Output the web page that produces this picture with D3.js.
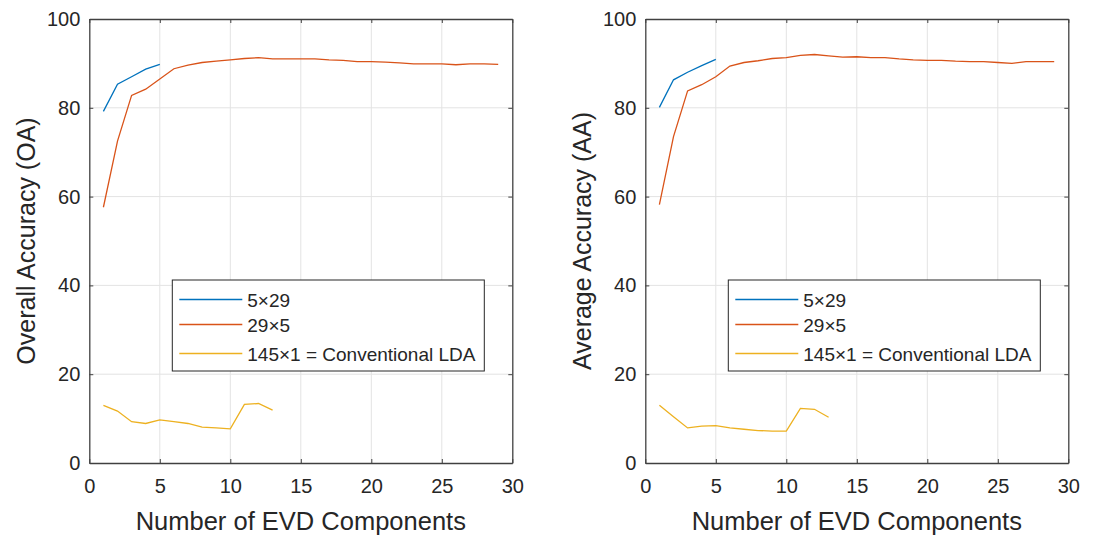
<!DOCTYPE html>
<html>
<head>
<meta charset="utf-8">
<script src="https://cdn.jsdelivr.net/npm/d3@7"></script>
<style>
  body { margin: 0; background: #fff; }
  svg { font-family: "Liberation Sans", Arial, sans-serif; }
</style>
</head>
<body>
<div id="chart"></div>
<script>
// EVD bileşen sayısı
const xTicks = [0, 5, 10, 15, 20, 25, 30];
const yTicks = [0, 20, 40, 60, 80, 100];
const seriesNames = ["5\u00d729", "29\u00d75", "145\u00d71 = Conventional LDA"];
const seriesColors = ["#0072BD", "#D95319", "#EDB120"];

// Overall Accuracy (OA)
const oa5x29 = [79.2, 85.3, 87.0, 88.7, 89.8];
const oa29x5 = [57.6, 72.5, 82.8, 84.2, 86.5, 88.8, 89.6, 90.2, 90.5, 90.8, 91.1, 91.3, 91.0, 91.0, 91.0,
                91.0, 90.8, 90.7, 90.4, 90.4, 90.3, 90.1, 89.9, 89.9, 89.9, 89.7, 89.9, 89.9, 89.8];
const oa145x1 = [13.0, 11.7, 9.3, 8.9, 9.7, 9.3, 8.9, 8.1, 7.9, 7.7, 13.2, 13.4, 11.9];

// Average Accuracy (AA)
const aa5x29 = [80.1, 86.3, 88.0, 89.5, 90.9];
const aa29x5 = [58.2, 73.5, 83.8, 85.2, 87.0, 89.4, 90.2, 90.6, 91.1, 91.3, 91.8, 92.0, 91.7, 91.4, 91.5,
                91.3, 91.3, 91.0, 90.8, 90.7, 90.7, 90.5, 90.4, 90.4, 90.2, 90.0, 90.4, 90.4, 90.4];
const aa145x1 = [13.0, 10.4, 7.9, 8.3, 8.4, 7.9, 7.6, 7.3, 7.2, 7.2, 12.3, 12.1, 10.3];

const width = 1095, height = 540;
const svg = d3.select("#chart").append("svg")
    .attr("width", width)
    .attr("height", height);

function drawPanel(left, yLabel, series) {
    const top = 19, bottom = 463, right = left + 423;
    const x = d3.scaleLinear().domain([0, 30]).range([left, right]);
    const y = d3.scaleLinear().domain([0, 100]).range([bottom, top]);
    const g = svg.append("g");

    // grid
    g.append("g").selectAll("line").data(xTicks.slice(1, -1)).enter().append("line")
        .attr("x1", d => x(d)).attr("x2", d => x(d))
        .attr("y1", top).attr("y2", bottom)
        .style("stroke", "#e3e3e3").style("stroke-width", 1);
    g.append("g").selectAll("line").data(yTicks.slice(1, -1)).enter().append("line")
        .attr("y1", d => y(d)).attr("y2", d => y(d))
        .attr("x1", left).attr("x2", right)
        .style("stroke", "#e3e3e3").style("stroke-width", 1);

    // axes (ticks inside, mirrored)
    const tl = 4;
    const axB = g.append("g").attr("transform", `translate(0,${bottom})`)
        .call(d3.axisBottom(x).tickValues(xTicks).tickSizeInner(-tl).tickSizeOuter(0).tickPadding(16));
    const axT = g.append("g").attr("transform", `translate(0,${top})`)
        .call(d3.axisTop(x).tickValues(xTicks).tickSizeInner(-tl).tickSizeOuter(0).tickFormat(""));
    const axL = g.append("g").attr("transform", `translate(${left},0)`)
        .call(d3.axisLeft(y).tickValues(yTicks).tickSizeInner(-tl).tickSizeOuter(0).tickPadding(9));
    const axR = g.append("g").attr("transform", `translate(${right},0)`)
        .call(d3.axisRight(y).tickValues(yTicks).tickSizeInner(-tl).tickSizeOuter(0).tickFormat(""));
    [axB, axT, axL, axR].forEach(a => {
        a.selectAll("path").style("stroke", "#404040").style("stroke-width", 1.3);
        a.selectAll("line").style("stroke", "#404040");
        a.selectAll("text").style("font-size", "20px").style("fill", "#262626")
            .style("font-family", "'Liberation Sans', Arial, sans-serif");
    });

    // Çizgiler
    const line = d3.line().x((d, i) => x(i + 1)).y(d => y(d));
    series.forEach((s, k) => {
        g.append("path").datum(s)
            .attr("d", line)
            .style("fill", "none")
            .style("stroke", seriesColors[k])
            .style("stroke-width", 1.3);
    });

    // axis labels
    g.append("text")
        .attr("x", (left + right) / 2).attr("y", 530)
        .attr("text-anchor", "middle")
        .style("font-size", "25.5px").style("fill", "#262626")
        .text("Number of EVD Components");
    g.append("text")
        .attr("transform", `translate(${left - 54},${(top + bottom) / 2}) rotate(-90)`)
        .attr("text-anchor", "middle")
        .style("font-size", "25px").style("fill", "#262626")
        .text(yLabel);

    // legend
    const lx = left + 83, ly = 280, lw = 312, lh = 91;
    const leg = g.append("g");
    leg.append("rect")
        .attr("x", lx).attr("y", ly).attr("width", lw).attr("height", lh)
        .style("fill", "#fff").style("stroke", "#262626").style("stroke-width", 1);
    const rowY = [19.5, 44.5, 73.5];
    seriesNames.forEach((name, k) => {
        leg.append("line")
            .attr("x1", lx + 7).attr("x2", lx + 70)
            .attr("y1", ly + rowY[k]).attr("y2", ly + rowY[k])
            .style("stroke", seriesColors[k]).style("stroke-width", 1.3);
        leg.append("text")
            .attr("x", lx + 75).attr("y", ly + rowY[k] + 7)
            .style("font-size", "19px").style("fill", "#262626")
            .text(name);
    });
}

drawPanel(89.3, "Overall Accuracy (OA)", [oa5x29, oa29x5, oa145x1]);
drawPanel(645.3, "Average Accuracy (AA)", [aa5x29, aa29x5, aa145x1]);
</script>
</body>
</html>
